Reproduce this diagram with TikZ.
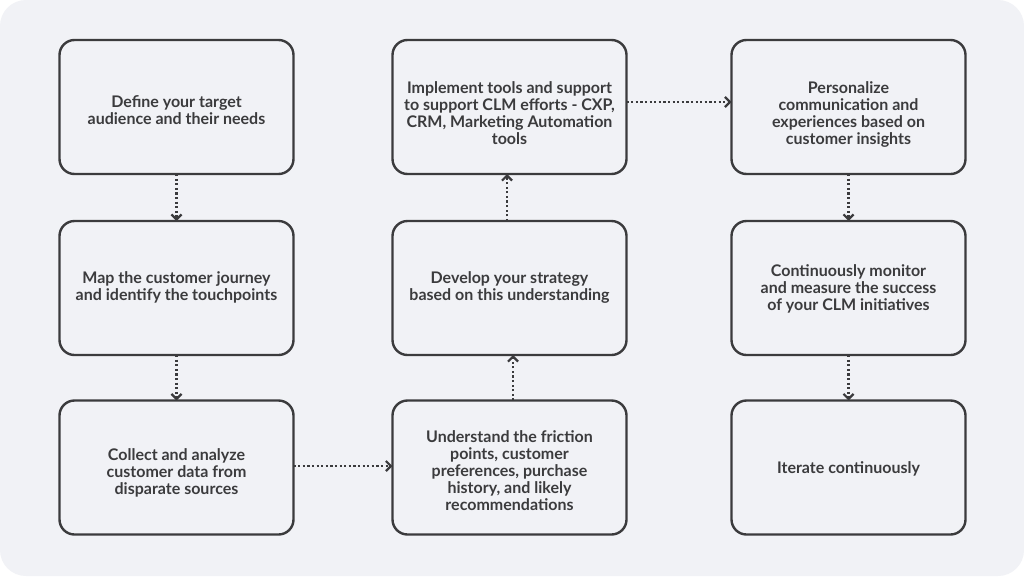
\documentclass[tikz,border=0pt]{standalone}
\usepackage{fontspec}
\setmainfont{Lato}
\usetikzlibrary{arrows.meta}
\definecolor{bgc}{HTML}{F1F2F6}
\definecolor{ink}{HTML}{3B3B3D}
\newcommand\boxtext[2]{\raisebox{#1}[\height][\depth]{\begin{tabular}{@{}c@{}}#2\end{tabular}}}
\begin{document}
\begin{tikzpicture}[x=1pt,y=-1pt,
  card/.style={draw=ink, line width=2.4pt, fill=bgc, rounded corners=15pt,
    minimum width=234pt, minimum height=134pt, inner sep=0pt, outer sep=0pt,
    text=ink, font=\fontsize{16}{17}\selectfont\bfseries},
  flow/.style={draw=ink, line width=2.3pt, dash pattern=on 2.2pt off 2.4pt,
    -{Straight Barb[length=5pt,width=10pt,line width=2.2pt]}}]
\useasboundingbox (0,0) rectangle (1024,576);
\fill[white] (0,0) rectangle (1024,576);
\fill[bgc, rounded corners=26pt] (0,0) rectangle (1024,576);

\node[card] (define) at (176.5,107) {\boxtext{-5.5pt}{Define your target\\audience and their needs}};
\node[card] (map) at (176.5,288) {\boxtext{-1pt}{Map the customer journey\\and identify the touchpoints}};
\node[card] (collect) at (176.5,467.5) {\boxtext{-6.5pt}{Collect and analyze\\customer data from\\disparate sources}};
\node[card] (understand) at (509.5,467.5) {\boxtext{-5.5pt}{Understand the friction\\points, customer\\preferences, purchase\\history, and likely\\recommendations}};
\node[card] (develop) at (509.5,288) {\boxtext{-1pt}{Develop your strategy\\based on this understanding}};
\node[card] (implement) at (509.5,107) {\boxtext{-8.5pt}{Implement tools and support\\to support CLM efforts - CXP,\\CRM, Marketing Automation\\tools}};
\node[card] (personalize) at (848.5,107) {\boxtext{-8.5pt}{Personalize\\communication and\\experiences based on\\customer insights}};
\node[card] (monitor) at (848.5,288) {\boxtext{-2.5pt}{Continuously monitor\\and measure the success\\of your CLM initiatives}};
\node[card] (iterate) at (848.5,467.5) {\boxtext{-2.5pt}{Iterate continuously}};

\draw[flow] (define.south) -- (map.north);
\draw[flow] (map.south) -- (collect.north);
\draw[flow] ([yshift=1.5pt]collect.east) -- ([yshift=1.5pt]understand.west);
\draw[flow] ([xshift=3.5pt]understand.north) -- ([xshift=3.5pt]develop.south);
\draw[flow] ([xshift=-2.5pt]develop.north) -- ([xshift=-2.5pt]implement.south);
\draw[flow] ([yshift=5pt]implement.east) -- ([yshift=5pt]personalize.west);
\draw[flow] (personalize.south) -- (monitor.north);
\draw[flow] (monitor.south) -- (iterate.north);
\end{tikzpicture}
\end{document}
